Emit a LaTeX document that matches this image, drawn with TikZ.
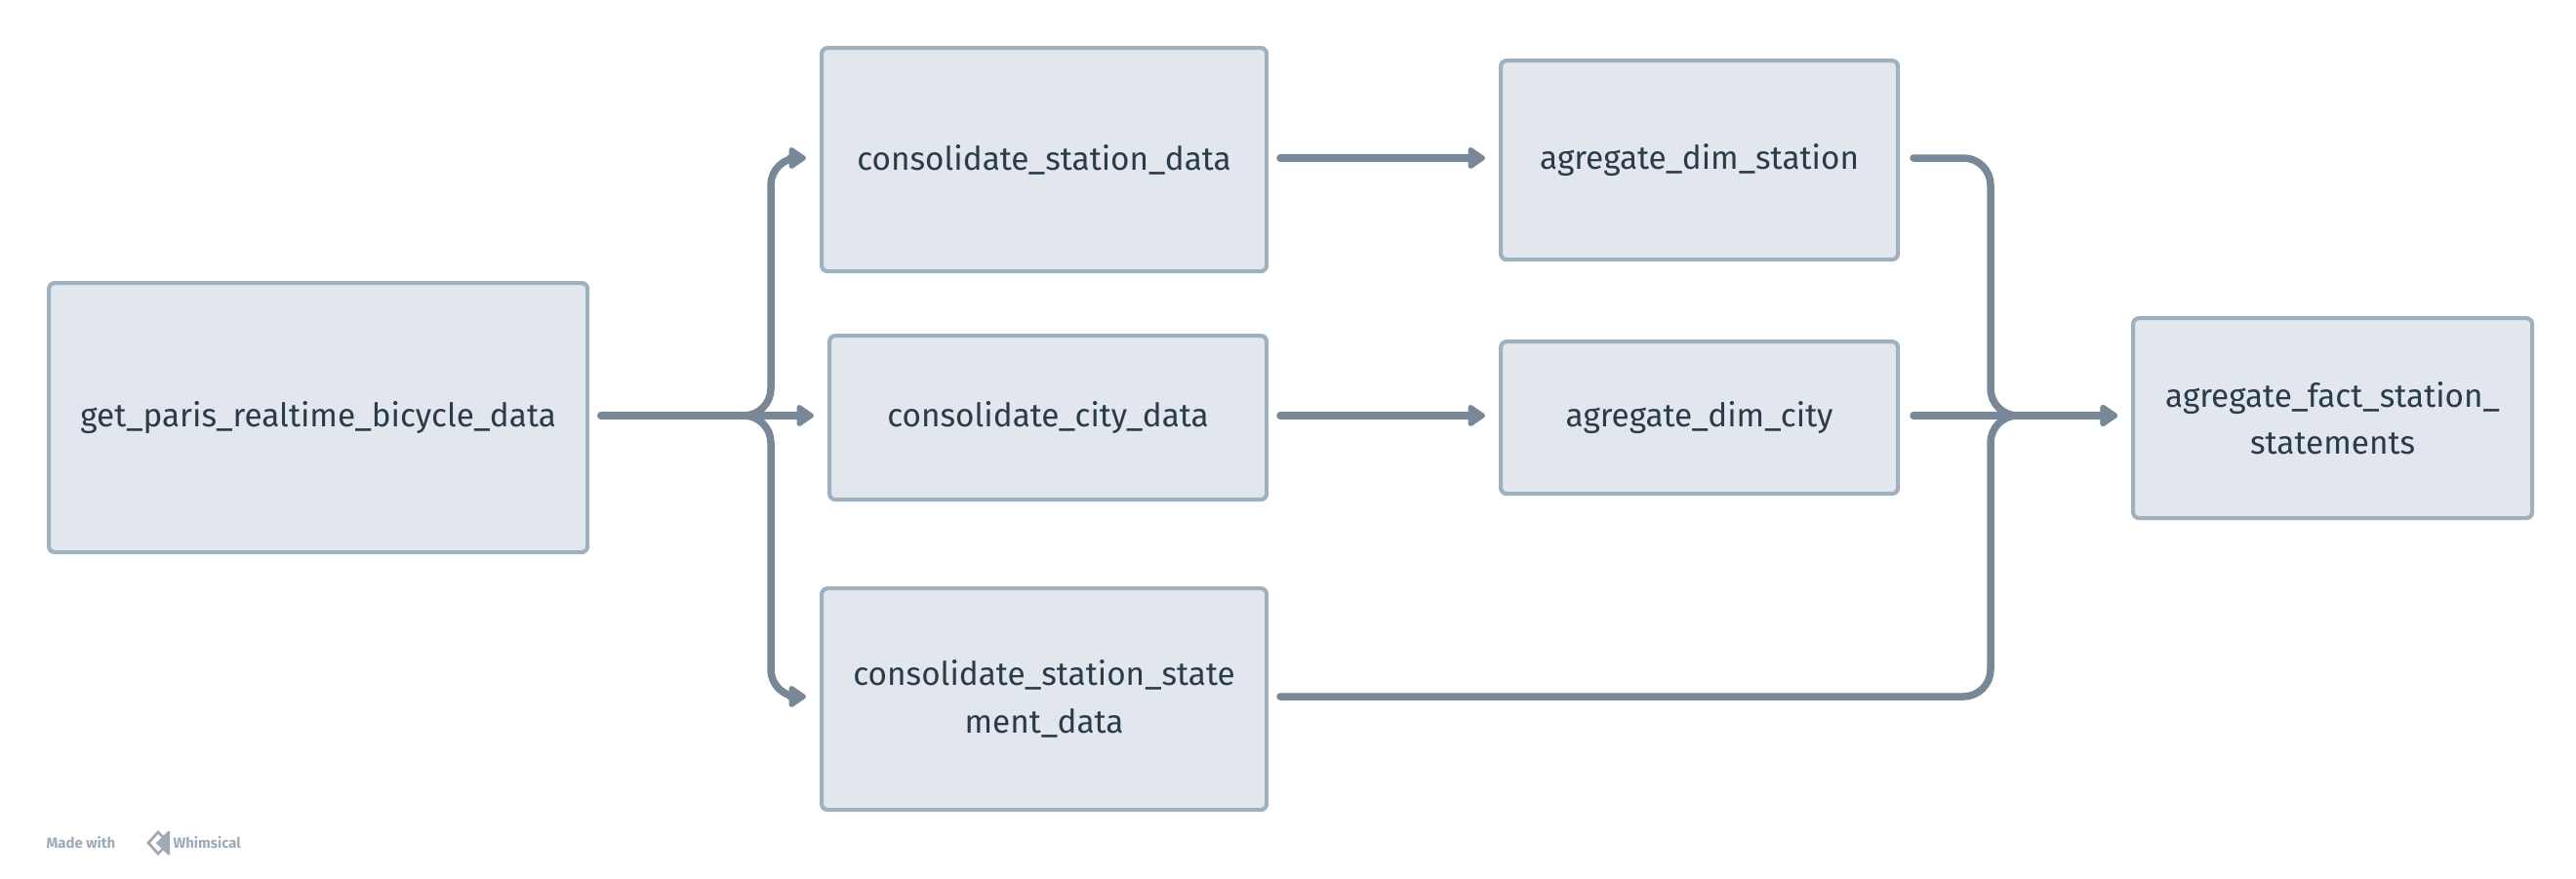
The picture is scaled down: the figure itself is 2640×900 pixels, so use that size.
\documentclass[tikz,border=0pt]{standalone}
\usepackage{fontspec}
\setmainfont{Fira Sans}
\usetikzlibrary{arrows.meta}
\definecolor{boxfill}{HTML}{E2E6ED}
\definecolor{boxline}{HTML}{9FB0BE}
\definecolor{conn}{HTML}{788896}
\definecolor{txt}{HTML}{2A3B4A}
\definecolor{logogrey}{HTML}{9FAAB5}
\tikzset{
  x=0.36pt,y=-0.36pt,
  flow/.style={draw=boxline,fill=boxfill,line width=1.5pt,rounded corners=2.2pt,inner sep=0pt,align=center,text=txt,font=\fontsize{12}{17.5}\selectfont,anchor=north west},
  wire/.style={draw=conn,line width=2.7pt,line cap=round,rounded corners=10pt},
  tip/.style={-{Triangle[length=7pt,width=9pt,round]}},
  credit/.style={text=logogrey,font=\fontsize{5.4}{6}\selectfont\bfseries,inner sep=0pt}
}
\newcommand{\flowbox}[6]{\node[flow,minimum width=#4*0.36pt-#2*0.36pt,minimum height=#5*0.36pt-#3*0.36pt] (#1) at (#2,#3) {#6};}
\begin{document}
\begin{tikzpicture}
\useasboundingbox (0,0) rectangle (2640,900);
\fill[white] (0,0) rectangle (2640,900);
\flowbox{a}{48}{288}{600}{564}{get\_paris\_realtime\_bicycle\_data}
\flowbox{b}{840}{47}{1296}{276}{consolidate\_station\_data}
\flowbox{c}{848}{342}{1296}{510}{consolidate\_city\_data}
\flowbox{d}{840}{601}{1296}{828}{consolidate\_station\_state\\ment\_data}
\flowbox{e}{1536}{60}{1943}{264}{agregate\_dim\_station}
\flowbox{f}{1536}{348}{1943}{504}{agregate\_dim\_city}
\flowbox{g}{2184}{324}{2593}{529}{agregate\_fact\_station\_\\statements}
\coordinate (as) at (616,426);
\coordinate (bt) at (826,162);
\coordinate (ct) at (834,426);
\coordinate (dt) at (826,714);
\coordinate (bs) at (1312,162);
\coordinate (cs) at (1312,426);
\coordinate (ds) at (1312,714);
\coordinate (et) at (1522,162);
\coordinate (ft) at (1522,426);
\coordinate (es) at (1961,162);
\coordinate (fs) at (1961,426);
\coordinate (gt) at (2170,426);
\draw[wire,tip] (as) -| (790,162) -- (bt);
\draw[wire,tip] (as) -- (ct);
\draw[wire,tip] (as) -| (790,714) -- (dt);
\draw[wire,tip] (bs) -- (et);
\draw[wire,tip] (cs) -- (ft);
\draw[wire,tip] (es) -| (2040,426) -- (gt);
\draw[wire,tip] (fs) -- (gt);
\draw[wire,tip] (ds) -| (2040,426) -- (gt);
\node[credit,anchor=west] (m) at (47,864) {Made with};
\draw[logogrey,line width=1pt] (162,853) -- (152,864) -- (162,875) -- (168,869) -- (163,864) -- (168,859) -- cycle;
\fill[logogrey] (163,864) -- (162,864) -- (163,863) -- cycle;
\fill[logogrey] (163,864) -- (162,864) -- (163,865) -- cycle;
\fill[logogrey] (160,864) -- (162,862) -- (162,866) -- cycle;
\fill[logogrey] (161,864) -- (160,864);
\fill[logogrey] (160,864) -- (160,864);
\fill[logogrey] (160,864) -- (160,864);
\fill[logogrey] (160,864) -- (160,864);
\fill[logogrey] (160,864) -- (172,852) -- (174,852) -- (174,876) -- (172,876) -- cycle;
\node[credit,anchor=west] (w) at (177,864) {Whimsical};
\end{tikzpicture}
\end{document}
